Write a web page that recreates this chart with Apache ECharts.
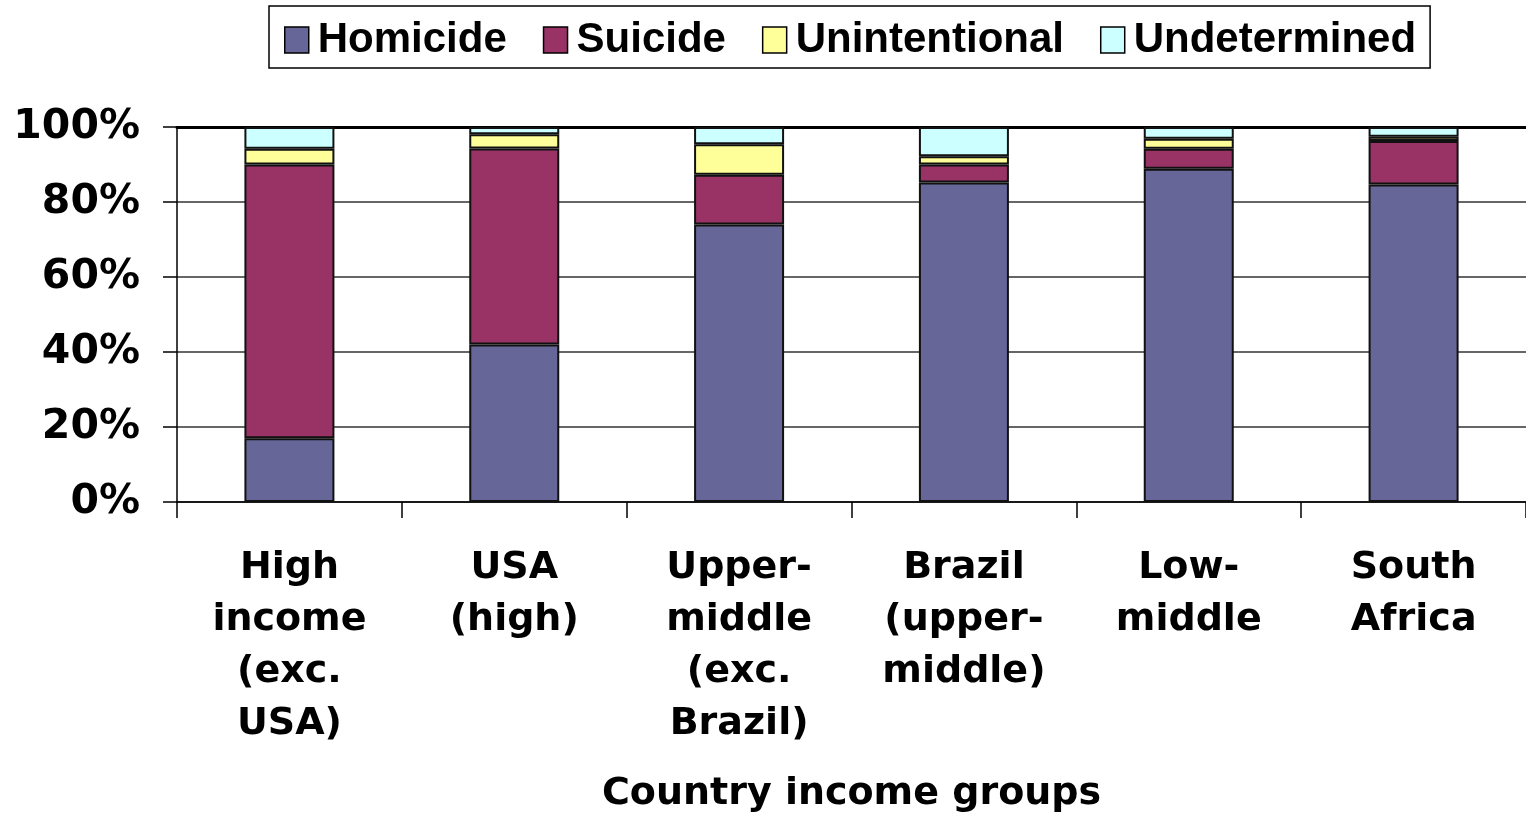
<!DOCTYPE html>
<html>
<head>
<meta charset="utf-8">
<script src="https://cdn.jsdelivr.net/npm/echarts@6/dist/echarts.min.js"></script>
<style>html,body{margin:0;padding:0;background:#fff}#chart{width:1526px;height:813px}</style>
</head>
<body>
<div id="chart"></div>
<script>
const categories = ["High\nincome\n(exc.\nUSA)", "USA\n(high)", "Upper-\nmiddle\n(exc.\nBrazil)", "Brazil\n(upper-\nmiddle)", "Low-\nmiddle", "South\nAfrica"];
const homicide = [17, 42, 74, 85.2, 88.9, 84.7];
const suicide = [73, 52.3, 13.3, 4.8, 5.3, 11.6];
const unintentional = [4.2, 3.8, 8.1, 2.2, 2.7, 1.1];
const undetermined = [5.8, 1.9, 4.6, 7.8, 3.1, 2.6];
const yTicks = [0, 20, 40, 60, 80, 100];

const FONT = "DejaVu Sans";
const chart = echarts.init(document.getElementById('chart'), null, {renderer: 'canvas'});
function mk(name, data, color) {
  return {
    name, type: 'bar', stack: 'total', data, barWidth: 90,
    itemStyle: {color, borderColor: '#111', borderWidth: 2},
    emphasis: {disabled: true}
  };
}
chart.setOption({
  animation: false,
  legend: {
    top: 6, left: 269,
    data: ['Homicide', 'Suicide', 'Unintentional', 'Undetermined'],
    icon: 'rect', itemWidth: 24, itemHeight: 26, itemGap: 36,
    borderColor: '#000', borderWidth: 1.5, padding: [13, 14, 7, 15],
    textStyle: {fontFamily: 'Liberation Sans', fontWeight: 'bold', fontSize: 42, color: '#000', padding: [0, 0, 0, 4]},
    itemStyle: {borderColor: '#000', borderWidth: 1.5}
  },
  grid: {left: 177, right: 0, top: 127, bottom: 311, outerBoundsMode: 'none', containLabel: false},
  xAxis: [{
    type: 'category', data: categories,
    axisLine: {lineStyle: {color: '#000', width: 1.5}},
    axisTick: {show: true, length: 16, lineStyle: {color: '#000', width: 1.5}},
    axisLabel: {fontFamily: FONT, fontWeight: 'bold', fontSize: 38, color: '#000', lineHeight: 52, margin: 40, interval: 0},
    name: 'Country income groups', nameLocation: 'middle', nameGap: 273,
    nameTextStyle: {fontFamily: FONT, fontWeight: 'bold', fontSize: 38, color: '#000'}
  }, {
    type: 'category', data: categories, position: 'top',
    axisLine: {show: true, lineStyle: {color: '#000', width: 3}},
    axisTick: {show: false}, axisLabel: {show: false}
  }],
  yAxis: {
    type: 'value', min: 0, max: 100, interval: 20,
    axisLine: {show: true, lineStyle: {color: '#000', width: 1.5}},
    axisTick: {show: true, length: 14, lineStyle: {color: '#000', width: 1.5}},
    splitLine: {show: true, lineStyle: {color: '#333', width: 1.5}},
    axisLabel: {
      fontFamily: FONT, fontWeight: 'bold', fontSize: 41, color: '#000', margin: 37,
      formatter: v => yTicks.includes(v) ? v + '%' : ''
    }
  },
  series: [
    mk('Homicide', homicide, '#666699'),
    mk('Suicide', suicide, '#993366'),
    mk('Unintentional', unintentional, '#FFFF99'),
    mk('Undetermined', undetermined, '#CCFFFF')
  ]
});
</script>
</body>
</html>
